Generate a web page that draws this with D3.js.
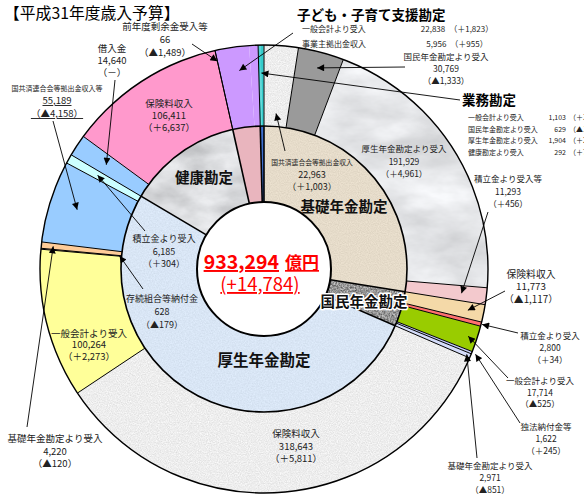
<!DOCTYPE html>
<html><head><meta charset="utf-8">
<script src="https://cdn.jsdelivr.net/npm/d3@7"></script>
<style>
body{margin:0;background:#fff}
svg{display:block}
text{font-family:"Noto Sans CJK JP","Noto Sans",sans-serif}
</style>
</head><body>
<svg id="c" width="584" height="496"></svg>
<script>
// ---------------- DATA ----------------
const titleText = "【平成31年度歳入予算】";
const accountNames = ["基礎年金勘定","国民年金勘定","厚生年金勘定","健康勘定","子ども・子育て支援勘定","業務勘定"];
const itemNames = [
  "国共済連合会等拠出金収入","国民年金勘定より受入","厚生年金勘定より受入","積立金より受入等",
  "保険料収入","積立金より受入","一般会計より受入","独法納付金等","基礎年金勘定より受入",
  "保険料収入","一般会計より受入","存続組合等納付金","基礎年金勘定より受入","国共済連合会等拠出金収入等","積立金より受入",
  "借入金","保険料収入","前年度剰余金受入等",
  "一般会計より受入","事業主拠出金収入",
  "一般会計より受入","国民年金勘定より受入","厚生年金勘定より受入","健康勘定より受入"
];
const itemValues = [
  22963, 30769, 191929, 11293,
  11773, 2800, 17714, 1622, 2971,
  318643, 100264, 628, 4220, 55189, 6185,
  14640, 106411, 66,
  22838, 5956,
  1103, 629, 1904, 292
];
const itemAccount = [0,0,0,0, 1,1,1,1,1, 2,2,2,2,2,2, 3,3,3, 4,4, 5,5,5,5];
const itemChanges = [
  "＋1,003","▲1,333","＋4,961","＋456",
  "▲1,117","＋34","▲525","＋245","▲851",
  "＋5,811","＋2,273","▲179","▲120","▲4,158","＋304",
  "－","＋6,637","▲1,489",
  "＋1,823","＋955",
  "＋33","▲18","＋28","＋73"
];
const totalValue = 933294;
const totalChange = "+14,784";

// ---------------- STYLE / LAYOUT ----------------
const W = 584, H = 496, cx = 264, cy = 269, r0 = 67, r1 = 143, r2 = 224;
const outerFill = [
  "tex:speckle","#9a9a9a","tex:marbleLight","#f3c9cd",
  "#f4d9a8","#ff6f6f","#99cc00","#c4cdf8","#d4dcfa",
  "tex:speckle","#ffff99","#ffcc99","#ffcc99","#99ccff","#ccffff",
  "#99ccff","#ff99cc","#ff99cc",
  "#cc99ff","#cc99ff",
  "#33cccc","#33cccc","#33cccc","#33cccc"
];
const innerFill = ["tex:beige","tex:granite","tex:blueSpeck","tex:marbleGray","#e9b5be","#3d6fcf"];
const textures = {
  speckle:    {base:[0.93,0.93,0.93], amp:0.17, freq:"0.9", oct:2},
  marbleLight:{base:[0.90,0.905,0.915], amp:0.28, freq:"0.014 0.03", oct:5},
  beige:      {base:[0.90,0.86,0.79], amp:0.12, freq:"0.9", oct:1},
  granite:    {base:[0.58,0.58,0.58], amp:0.8, freq:"0.6", oct:2},
  blueSpeck:  {base:[0.85,0.90,0.96], amp:0.10, freq:"0.7", oct:2},
  marbleGray: {base:[0.86,0.865,0.875], amp:0.34, freq:"0.02 0.035", oct:5}
};

const svg = d3.select("#c");
const defs = svg.append("defs");
Object.entries(textures).forEach(([id,t]) => {
  const f = defs.append("filter").attr("id","tx-"+id)
    .attr("filterUnits","userSpaceOnUse").attr("x",-r2-10).attr("y",-r2-10).attr("width",2*r2+20).attr("height",2*r2+20)
    .attr("color-interpolation-filters","sRGB");
  f.append("feTurbulence").attr("type","fractalNoise").attr("baseFrequency",t.freq)
    .attr("numOctaves",t.oct).attr("seed",7).attr("result","n");
  const a = t.amp, b = t.base;
  f.append("feColorMatrix").attr("type","matrix").attr("in","n")
    .attr("values",`${a} 0 0 0 ${b[0]-a/2}  ${a} 0 0 0 ${b[1]-a/2}  ${a} 0 0 0 ${b[2]-a/2}  0 0 0 0 1`)
    .attr("result","c");
  f.append("feComposite").attr("in","c").attr("in2","SourceGraphic").attr("operator","in");
});
defs.append("marker").attr("id","ah").attr("viewBox","0 0 10 10").attr("refX",10).attr("refY",5)
  .attr("markerWidth",9).attr("markerHeight",7).attr("markerUnits","userSpaceOnUse").attr("orient","auto")
  .append("path").attr("d","M0,0L10,5L0,10z").attr("fill","#000");

function applyFill(sel, f){
  if (f.startsWith("tex:")) sel.attr("fill","#000").attr("filter","url(#tx-"+f.slice(4)+")");
  else sel.attr("fill", f);
}

// ---------------- LAYOUT COMPUTATION ----------------
const accountValues = accountNames.map((_,k) => d3.sum(itemValues.filter((v,i)=>itemAccount[i]===k)));
const pie = d3.pie().sort(null).value(d=>d).startAngle(0).endAngle(2*Math.PI);
const outerArcs = pie(itemValues);
const innerArcs = pie(accountValues);
const arcOuter = d3.arc().innerRadius(r1).outerRadius(r2);
const arcInner = d3.arc().innerRadius(r0).outerRadius(r1);
const pt = (a, r) => [cx + r*Math.sin(a), cy - r*Math.cos(a)];
const group = i => (itemAccount[i]===4 || itemAccount[i]===5) ? "a"+itemAccount[i] : "i"+i;

const g = svg.append("g").attr("transform",`translate(${cx},${cy})`);
outerArcs.forEach((d,i) => applyFill(g.append("path").attr("d", arcOuter(d)), outerFill[i]));
innerArcs.forEach((d,k) => applyFill(g.append("path").attr("d", arcInner(d)), innerFill[k]));
outerArcs.forEach((d,i) => {
  const prev = (i-1+itemValues.length)%itemValues.length;
  if (group(i) === group(prev)) return;
  const a = d.startAngle;
  svg.append("line").attr("x1",pt(a,r1)[0]).attr("y1",pt(a,r1)[1]).attr("x2",pt(a,r2)[0]).attr("y2",pt(a,r2)[1])
    .attr("stroke","#000").attr("stroke-width",1);
});
innerArcs.forEach((d,k) => {
  const a = d.startAngle;
  svg.append("line").attr("x1",pt(a,r0)[0]).attr("y1",pt(a,r0)[1]).attr("x2",pt(a,r1)[0]).attr("y2",pt(a,r1)[1])
    .attr("stroke","#000").attr("stroke-width",1.6);
});
svg.append("circle").attr("cx",cx).attr("cy",cy).attr("r",r2).attr("fill","none").attr("stroke","#000").attr("stroke-width",1.4);
svg.append("circle").attr("cx",cx).attr("cy",cy).attr("r",r1).attr("fill","none").attr("stroke","#000").attr("stroke-width",1.6);
svg.append("circle").attr("cx",cx).attr("cy",cy).attr("r",r0).attr("fill","#fff").attr("stroke","#000").attr("stroke-width",2);

// ---------------- TEXT ----------------
svg.append("text").attr("x",4).attr("y",18.5).attr("font-size",15.8).attr("fill","#000").text(titleText);

const fmt = d3.format(",");
const midA = i => (outerArcs[i].startAngle + outerArcs[i].endAngle)/2;
function arrow(from, to){
  svg.append("line").attr("x1",from[0]).attr("y1",from[1]).attr("x2",to[0]).attr("y2",to[1])
    .attr("stroke","#000").attr("stroke-width",0.9).attr("marker-end","url(#ah)");
}
const labels = [
  {i:17, x:165, y:30,  fs:9.5, dy:12.8, from:[192,44],  r:213},
  {i:15, x:112, y:52,  fs:9.5, dy:12,  from:[115,80],  r:189},
  {i:13, x:57,  y:91,  fs:7, fsV:9.5, dy:13, ul:true, from:[53,121], r:196},
  {i:16, x:169, y:107, fs:9.5, dy:12.2},
  {i:0,  x:312, y:165, fs:6.8, fsV:9, dy:12.5, from:[285,151], r:156},
  {i:2,  x:404, y:152, fs:8.5, dy:12.5},
  {i:1,  x:446, y:60,  fs:8.5, dy:12,  from:[405,67],  r:208},
  {i:3,  x:508, y:182, fs:8.5, dy:12.5, from:[488,212], r:199},
  {i:4,  x:531, y:278, fs:9.8, dy:12.4, from:[505,291], r:208},
  {i:5,  x:550, y:339, fs:8.5, dy:12,  from:[518,333], r:225},
  {i:6,  x:540, y:384, fs:8.5, dy:11.7, from:[508,378], r:215},
  {i:7,  x:546, y:430, fs:8.5, dy:12,  from:[520,423], r:228},
  {i:8,  x:490, y:469, fs:8.5, dy:12,  from:[477,458], r:220},
  {i:9,  x:296, y:437, fs:9.5, dy:12.5},
  {i:10, x:89,  y:337, fs:9.5, dy:11.4},
  {i:11, x:162, y:302, fs:9,   dy:13,  from:[143,289], r:145},
  {i:12, x:55,  y:442, fs:9.5, dy:12.5, from:[27,427], r:212},
  {i:14, x:164, y:242, fs:9,   dy:12.5, from:[145,231], r:191}
];
labels.forEach(s => {
  const lines = [itemNames[s.i], fmt(itemValues[s.i]), "（" + itemChanges[s.i] + "）"];
  lines.forEach((t,j) => {
    const tx = svg.append("text").attr("x",s.x).attr("y",s.y + j*s.dy).attr("text-anchor","middle")
      .attr("font-size", j===0 ? s.fs : (s.fsV||s.fs)).attr("fill","#222").text(t);
    if (s.ul && j>0) tx.attr("text-decoration","underline");
  });
  if (s.from) arrow(s.from, pt(midA(s.i), s.r));
});

// 子ども・子育て支援勘定 block
const kidsIdx = itemAccount.map((a,i)=>a===4?i:-1).filter(i=>i>=0);
const kidsMid = (outerArcs[kidsIdx[0]].startAngle + outerArcs[kidsIdx[kidsIdx.length-1]].endAngle)/2;
svg.append("text").attr("x",297).attr("y",20).attr("font-size",13.5).attr("font-weight","bold").attr("fill","#000").text(accountNames[4]);
kidsIdx.forEach((i,j) => {
  svg.append("text").attr("x",302).attr("y",32+j*15).attr("font-size",8).attr("fill","#222").text(itemNames[i]);
  svg.append("text").attr("x",457).attr("y",32+j*15).attr("font-size",8).attr("text-anchor","middle").attr("fill","#222")
    .text(fmt(itemValues[i]) + "　（" + itemChanges[i] + "）");
});
arrow([293,33], pt(kidsMid, 200));

// 業務勘定 block
const gyoIdx = itemAccount.map((a,i)=>a===5?i:-1).filter(i=>i>=0);
const gyoMid = (outerArcs[gyoIdx[0]].startAngle + outerArcs[gyoIdx[gyoIdx.length-1]].endAngle)/2;
svg.append("text").attr("x",462).attr("y",105).attr("font-size",13.5).attr("font-weight","bold").attr("fill","#000").text(accountNames[5]);
gyoIdx.forEach((i,j) => {
  const y = 120 + j*11.5;
  svg.append("text").attr("x",468).attr("y",y).attr("font-size",7).attr("fill","#222").text(itemNames[i]);
  svg.append("text").attr("x",566).attr("y",y).attr("font-size",7).attr("text-anchor","end").attr("fill","#222").text(fmt(itemValues[i]));
  svg.append("text").attr("x",569).attr("y",y).attr("font-size",7).attr("fill","#222").text("（" + itemChanges[i] + "）");
});
svg.append("line").attr("x1",460).attr("y1",100).attr("x2",pt(gyoMid,196)[0]).attr("y2",pt(gyoMid,196)[1])
  .attr("stroke","#000").attr("stroke-width",0.9).attr("marker-end","url(#ah)");

// inner account labels
const accLabel = [
  {k:0, x:344, y:212, fs:14.5},
  {k:1, x:364, y:307, fs:14.5, halo:true},
  {k:2, x:264, y:366, fs:15.5},
  {k:3, x:204, y:183, fs:14.5}
];
accLabel.forEach(s => {
  const t = svg.append("text").attr("x",s.x).attr("y",s.y).attr("text-anchor","middle")
    .attr("font-size",s.fs).attr("font-weight","bold").attr("fill","#111").text(accountNames[s.k]);
  if (s.halo) t.attr("stroke","#fff").attr("stroke-width",3).attr("paint-order","stroke").attr("stroke-linejoin","round");
});

// center total
svg.append("text").attr("x",279).attr("y",269).attr("text-anchor","end").attr("font-family","Liberation Sans, Arial, sans-serif")
  .attr("font-size",19.5).attr("font-weight","bold").attr("fill","#ff0000").attr("text-decoration","underline").text(fmt(totalValue));
svg.append("text").attr("x",285).attr("y",269).attr("font-size",17).attr("font-weight","bold")
  .attr("fill","#ff0000").attr("text-decoration","underline").text("億円");
svg.append("text").attr("x",260).attr("y",291).attr("text-anchor","middle").attr("font-family","Liberation Sans, Arial, sans-serif")
  .attr("font-size",18.5).attr("fill","#ff0000").attr("text-decoration","underline").text("(" + totalChange + ")");
</script>
</body></html>
